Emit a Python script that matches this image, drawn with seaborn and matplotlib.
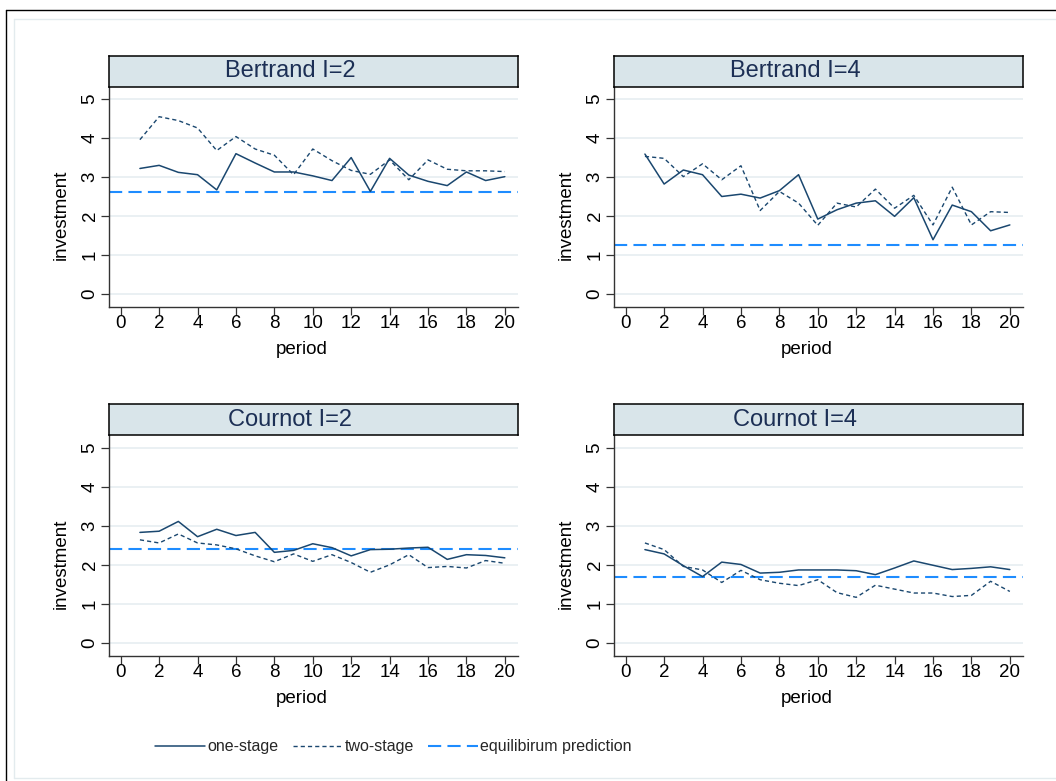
import matplotlib
matplotlib.use("Agg")
import matplotlib.pyplot as plt
from matplotlib.lines import Line2D
import seaborn as sns
import pandas as pd

# ---- data ----
periods = list(range(1, 21))

bertrand2_one = [3.22, 3.30, 3.12, 3.06, 2.67, 3.60, 3.36, 3.13, 3.13, 3.03,
                 2.91, 3.50, 2.63, 3.48, 3.05, 2.89, 2.78, 3.13, 2.91, 3.01]
bertrand2_two = [3.96, 4.55, 4.45, 4.26, 3.68, 4.04, 3.72, 3.56, 3.06, 3.72,
                 3.42, 3.17, 3.07, 3.44, 2.93, 3.44, 3.20, 3.16, 3.16, 3.14]
bertrand4_one = [3.59, 2.82, 3.18, 3.06, 2.50, 2.56, 2.46, 2.65, 3.06, 1.92,
                 2.16, 2.33, 2.39, 1.99, 2.47, 1.39, 2.28, 2.11, 1.62, 1.77]
bertrand4_two = [3.53, 3.48, 3.01, 3.34, 2.93, 3.29, 2.14, 2.63, 2.33, 1.76,
                 2.33, 2.23, 2.69, 2.20, 2.53, 1.77, 2.74, 1.77, 2.11, 2.09]
cournot2_one = [2.83, 2.86, 3.11, 2.72, 2.91, 2.75, 2.83, 2.32, 2.37, 2.54,
                2.44, 2.23, 2.39, 2.40, 2.43, 2.45, 2.14, 2.26, 2.24, 2.18]
cournot2_two = [2.64, 2.56, 2.79, 2.56, 2.51, 2.41, 2.23, 2.08, 2.28, 2.09,
                2.26, 2.06, 1.81, 2.00, 2.26, 1.93, 1.96, 1.92, 2.11, 2.04]
cournot4_one = [2.39, 2.28, 1.98, 1.70, 2.07, 2.01, 1.79, 1.81, 1.87, 1.87,
                1.87, 1.85, 1.75, 1.92, 2.10, 1.99, 1.88, 1.91, 1.95, 1.88]
cournot4_two = [2.56, 2.39, 1.96, 1.87, 1.55, 1.86, 1.62, 1.53, 1.47, 1.62,
                1.29, 1.17, 1.48, 1.38, 1.28, 1.28, 1.19, 1.22, 1.58, 1.32]

panel_titles = ["Bertrand I=2", "Bertrand I=4", "Cournot I=2", "Cournot I=4"]
equilibrium = [2.62, 1.26, 2.41, 1.69]
series_labels = ["one-stage", "two-stage", "equilibirum prediction"]
x_ticks = list(range(0, 21, 2))
y_ticks = list(range(0, 6))

one_stage = [bertrand2_one, bertrand4_one, cournot2_one, cournot4_one]
two_stage = [bertrand2_two, bertrand4_two, cournot2_two, cournot4_two]

# ---- style ----
sns.set_theme(style="white")
plt.rcParams["font.family"] = ["Liberation Sans", "DejaVu Sans"]
plt.rcParams["lines.scale_dashes"] = False

NAVY = "#1a476f"
BLUE = "#1e8cff"
STRIP = "#d9e5ea"
STRIP_TEXT = "#1c2f55"
GRID = "#e6eef1"
FRAME = "#e3ebee"
SOLID = dict(color=NAVY, lw=1.1)
SHORT_DASH = dict(color=NAVY, lw=1.0, linestyle=(0, (3.0, 2.2)))
LONG_DASH = dict(color=BLUE, lw=1.5, linestyle=(0, (9.5, 4.5)))

W, H = 1056, 781
fig = plt.figure(figsize=(W / 100, H / 100), dpi=100)
fig.patch.set_facecolor("white")


def fig_line(xs, ys, color):
    """Straight line in pixel coordinates (origin top-left)."""
    fig.add_artist(Line2D([x / W for x in xs], [1 - y / H for y in ys],
                          transform=fig.transFigure, color=color, lw=1.0))


# outer frame of the graph region
fig_line([6, 6], [10, H], "black")
fig_line([6, W], [10, 10], "black")
fig_line([14, 14], [19, H - 3], FRAME)
fig_line([14, W], [19, 19], FRAME)
fig_line([14, W], [H - 3, H - 3], FRAME)

# panel geometry in pixels
lefts = [109, 614, 109, 614]
tops = [86.7, 86.7, 435, 435]
bottoms = [306.7, 306.7, 656, 656]
strip_tops = [55.7, 55.7, 404.3, 404.3]
pw = 408.7

for i in range(4):
    l, t, b, st = lefts[i], tops[i], bottoms[i], strip_tops[i]
    ph = b - t
    ax = fig.add_axes([l / W, 1 - b / H, pw / W, ph / H])
    df = pd.DataFrame({"period": periods,
                       "one": one_stage[i],
                       "two": two_stage[i]})
    ax.axhline(equilibrium[i], zorder=2, **LONG_DASH)
    sns.lineplot(data=df, x="period", y="two", ax=ax, zorder=3, **SHORT_DASH)
    sns.lineplot(data=df, x="period", y="one", ax=ax, zorder=4, **SOLID)

    ax.set_xlim(-0.61, 20.67)
    ax.set_ylim(-0.33, 5.32)
    ax.set_xticks(x_ticks)
    ax.set_yticks(y_ticks)
    ax.set_xticklabels([str(v) for v in x_ticks])
    ax.set_yticklabels([str(v) for v in y_ticks])
    ax.yaxis.grid(True, color=GRID, lw=1.2)
    ax.xaxis.grid(False)
    ax.set_axisbelow(True)
    ax.set_facecolor("white")
    for side in ["top", "right"]:
        ax.spines[side].set_visible(False)
    for side in ["left", "bottom"]:
        ax.spines[side].set_color("#333333")
        ax.spines[side].set_linewidth(1.0)
    ax.tick_params(axis="both", which="major", direction="out", length=5.5,
                   width=0.9, color="#333333", labelsize=13.5, labelcolor="black",
                   bottom=True, left=True)
    ax.tick_params(axis="x", pad=0.5)
    ax.tick_params(axis="y", pad=2)
    for lab in ax.get_yticklabels():
        lab.set_rotation(90)
        lab.set_va("center")
        lab.set_ha("right")

    ax.set_xlabel("period", fontsize=13.5, color="black")
    ax.set_ylabel("investment", fontsize=13.5, color="black")
    ax.xaxis.set_label_coords(0.5 - 12 / pw, -34 / ph)
    ax.yaxis.set_label_coords(-39 / pw, 0.5 - 18 / ph)

    # strip with panel title
    sax = fig.add_axes([l / W, 1 - t / H, pw / W, (t - st) / H])
    sax.set_facecolor(STRIP)
    sax.set_xticks([])
    sax.set_yticks([])
    for side in sax.spines.values():
        side.set_color("black")
        side.set_linewidth(1.1)
    sax.text(0.5 - 23 / pw, 0.5, panel_titles[i], transform=sax.transAxes,
             ha="center", va="center", fontsize=17, color=STRIP_TEXT)

handles = [Line2D([], [], **SOLID),
           Line2D([], [], **SHORT_DASH),
           Line2D([], [], **LONG_DASH)]
fig.legend(handles, series_labels, loc="center", ncol=3,
           bbox_to_anchor=(393.5 / W, 1 - 746.7 / H), frameon=False,
           fontsize=11.5, handlelength=3.1, handletextpad=0.15,
           columnspacing=0.9, borderpad=0)

fig.savefig("out.png", dpi=100, facecolor="white")
